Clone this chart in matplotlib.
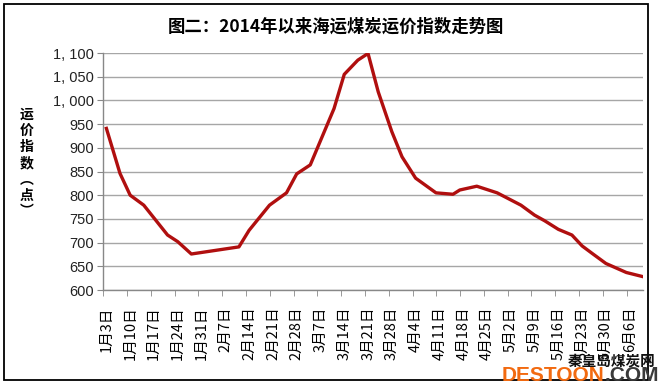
import matplotlib
matplotlib.use('Agg')
import matplotlib.pyplot as plt
from matplotlib.patches import Rectangle
from matplotlib.ticker import FixedLocator, FuncFormatter

plt.rcParams['font.family'] = ['Noto Sans CJK SC', 'DejaVu Sans']

# 数据：距 1月3日 的天数，以及运价指数（点）
days = [0, 4, 7, 11, 18, 21, 25, 39, 42, 48, 53, 56, 60, 67, 70, 74, 77,
        80, 84, 87, 91, 97, 102, 104, 109, 115, 122, 126, 129, 133, 137,
        140, 143, 147, 153, 158]
index_values = [941, 846, 800, 779, 716, 702, 676, 691, 726, 779, 805, 845,
                864, 983, 1055, 1085, 1099, 1018, 934, 881, 836, 805, 802,
                811, 819, 805, 779, 758, 746, 728, 716, 693, 677, 656, 637,
                628]

tick_labels = ['1月3日', '1月10日', '1月17日', '1月24日', '1月31日', '2月7日',
               '2月14日', '2月21日', '2月28日', '3月7日', '3月14日', '3月21日',
               '3月28日', '4月4日', '4月11日', '4月18日', '4月25日', '5月2日',
               '5月9日', '5月16日', '5月23日', '5月30日', '6月6日']
tick_days = [7 * i for i in range(len(tick_labels))]
y_ticks = list(range(600, 1101, 50))

fig = plt.figure(figsize=(6.68, 3.87), dpi=100)
fig.patch.set_facecolor('white')
ax = fig.add_axes([0.1547, 0.2506, 0.8083, 0.6124])

ax.plot(days, index_values, color='#b00f0f', linewidth=2.4,
        solid_joinstyle='round', zorder=3)

ax.set_xlim(-0.9, 158)
ax.set_ylim(600, 1100)
ax.set_yticks(y_ticks)
ax.yaxis.set_major_formatter(FuncFormatter(
    lambda v, p: f"{int(v):,}".replace(',', ', ')))
ax.grid(axis='y', color='#a6a6a6', linewidth=1.0)
ax.set_axisbelow(True)

# 刻度线在分类之间，标签居中
ax.set_xticks(tick_days)
ax.set_xticklabels(tick_labels, rotation=90, fontsize=10.5)
ax.tick_params(axis='x', which='major', length=0, pad=12)
ax.xaxis.set_minor_locator(FixedLocator([d - 0.9 for d in tick_days]))
ax.tick_params(axis='x', which='minor', length=4, color='#888888')
ax.tick_params(axis='y', length=4, color='#888888', labelsize=10.5,
               labelcolor='#222222', pad=3)
for lab in ax.get_yticklabels():
    lab.set_family(['Liberation Sans', 'DejaVu Sans'])

for s in ['top', 'right']:
    ax.spines[s].set_visible(False)
for s in ['left', 'bottom']:
    ax.spines[s].set_color('#888888')
    ax.spines[s].set_linewidth(1.0)

fig.text(0.503, 0.93, '图二：2014年以来海运煤炭运价指数走势图',
         ha='center', va='center', fontsize=12.5, fontweight='bold')
fig.text(0.040, 0.578, '运\n价\n指\n数\n︵\n点\n︶', ha='center', va='center',
         fontsize=10, fontweight='bold', linespacing=1.2)

# 外框
fig.patches.append(Rectangle((4 / 668, 1 - 380 / 387), 644 / 668, 376 / 387,
                             transform=fig.transFigure, fill=False,
                             edgecolor='black', linewidth=1.3))

# 水印
fig.text(0.981, 0.068, '秦皇岛煤炭网', ha='right', va='center', fontsize=10.5,
         fontweight='bold', color='#111111')
t1 = fig.text(502 / 668, 0.030, 'DESTOON', ha='left', va='center',
              fontsize=15, fontweight='bold', color='#f26a10',
              family='Liberation Sans')
fig.canvas.draw()
bb = t1.get_window_extent()
fig.text(bb.x1 / 668, 0.030, '.COM', ha='left', va='center', fontsize=15,
         fontweight='bold', color='#3a3a3a', family='Liberation Sans')

fig.savefig('out.png', dpi=100)
